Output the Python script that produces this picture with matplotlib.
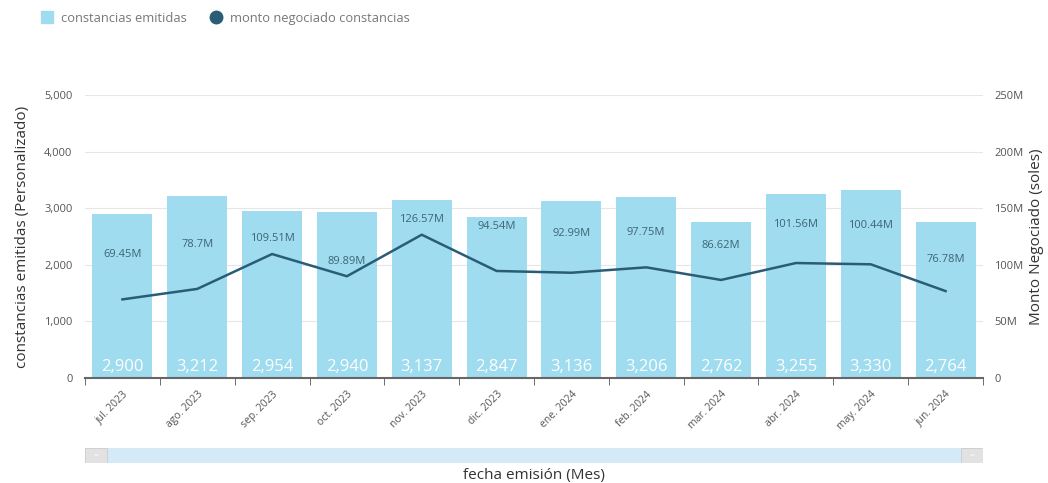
import matplotlib.pyplot as plt
from matplotlib.patches import Rectangle
from matplotlib.lines import Line2D
from matplotlib.ticker import FuncFormatter
import numpy as np

plt.rcParams['font.family'] = ['Open Sans', 'DejaVu Sans']

meses = ["jul. 2023", "ago. 2023", "sep. 2023", "oct. 2023", "nov. 2023", "dic. 2023",
         "ene. 2024", "feb. 2024", "mar. 2024", "abr. 2024", "may. 2024", "jun. 2024"]
constancias = [2900, 3212, 2954, 2940, 3137, 2847, 3136, 3206, 2762, 3255, 3330, 2764]
monto = [69.45, 78.7, 109.51, 89.89, 126.57, 94.54, 92.99, 97.75, 86.62, 101.56, 100.44, 76.78]
monto_txt = ["69.45M", "78.7M", "109.51M", "89.89M", "126.57M", "94.54M",
             "92.99M", "97.75M", "86.62M", "101.56M", "100.44M", "76.78M"]
# vertical offset (points) of each line label above its point
offsets = [28, 28, 7, 7, 7, 28, 24, 21, 21, 24, 24, 19]

bar_color = "#9fdcf0"
line_color = "#2a5d75"
text_grey = "#555555"

fig = plt.figure(figsize=(10.48, 4.83), dpi=100)
ax = fig.add_axes([85/1048, 1-378/483, 898/1048, 283/483])
ax2 = ax.twinx()

x = np.arange(len(meses))
ax.bar(x, constancias, width=0.8, color=bar_color, zorder=2)
for xi, v in zip(x, constancias):
    ax.text(xi, 60, f"{v:,}", color="white", fontsize=12, ha="center", va="bottom", zorder=3)

ax.set_xlim(-0.5, len(meses) - 0.5)
ax.set_ylim(0, 5000)
ax.set_yticks([0, 1000, 2000, 3000, 4000, 5000])
ax.yaxis.set_major_formatter(FuncFormatter(lambda v, p: f"{int(v):,}"))
ax.grid(axis="y", color="#e6e6e6", linewidth=0.8, zorder=0)
ax.set_axisbelow(True)

ax.set_xticks(x)
ax.set_xticklabels(meses, rotation=45, ha="right", rotation_mode="anchor", fontsize=7.5, color=text_grey)
ax.tick_params(axis="x", length=0, pad=8)
ax.set_xticks(np.arange(-0.5, len(meses)), minor=True)
ax.tick_params(axis="x", which="minor", length=5, color="#555555")
ax.tick_params(axis="y", length=0, labelsize=8, colors=text_grey, pad=9)

for s in ["top", "right", "left"]:
    ax.spines[s].set_visible(False)
    ax2.spines[s].set_visible(False)
ax.spines["bottom"].set_color("#666666")
ax.spines["bottom"].set_linewidth(1.5)
ax2.spines["bottom"].set_visible(False)

ax2.plot(x, monto, color=line_color, linewidth=1.8, zorder=4)
for xi, v, t, o in zip(x, monto, monto_txt, offsets):
    ax2.annotate(t, (xi, v), xytext=(0, o), textcoords="offset points",
                 ha="center", va="bottom", fontsize=8, color="#3f6475")
ax2.set_ylim(0, 250)
ax2.set_yticks([0, 50, 100, 150, 200, 250])
ax2.yaxis.set_major_formatter(FuncFormatter(lambda v, p: "0" if v == 0 else f"{int(v)}M"))
ax2.tick_params(axis="y", length=0, labelsize=8, colors=text_grey, pad=8)
ax.set_zorder(ax2.get_zorder() - 1)
ax.patch.set_visible(True)
ax2.patch.set_visible(False)

ax.set_ylabel("constancias emitidas (Personalizado)", fontsize=11, color="#333333", labelpad=10)
ax2.set_ylabel("Monto Negociado (soles)", fontsize=11, color="#333333", labelpad=4)

fig.text(534/1048, 1-476/483, "fecha emisión (Mes)", ha="center", va="center", fontsize=11, color="#333333")

# scroll bar
sb = fig.add_axes([85/1048, 1-463/483, 898/1048, 15/483])
sb.set_xlim(0, 1)
sb.set_ylim(0, 1)
sb.axis("off")
sb.add_patch(Rectangle((0, 0), 1, 1, color="#d4eaf6"))
sb.add_patch(Rectangle((0, 0), 0.025, 1, facecolor="#e2e2e2", edgecolor="#cccccc", linewidth=0.6))
sb.add_patch(Rectangle((0.975, 0), 0.025, 1, facecolor="#e2e2e2", edgecolor="#cccccc", linewidth=0.6))
sb.text(0.0125, 0.5, "=", ha="center", va="center", fontsize=6, color="white")
sb.text(0.9875, 0.5, "=", ha="center", va="center", fontsize=6, color="white")

handles = [Line2D([], [], marker="s", linestyle="", markersize=9, color=bar_color),
           Line2D([], [], marker="o", linestyle="", markersize=9, color=line_color)]
fig.legend(handles, ["constancias emitidas", "monto negociado constancias"],
           loc="upper left", bbox_to_anchor=(22/1048, 1.0), ncol=2, frameon=False,
           fontsize=9.3, labelcolor="#777777", handletextpad=0.1, columnspacing=1.3)

fig.savefig("out.png", dpi=100)
